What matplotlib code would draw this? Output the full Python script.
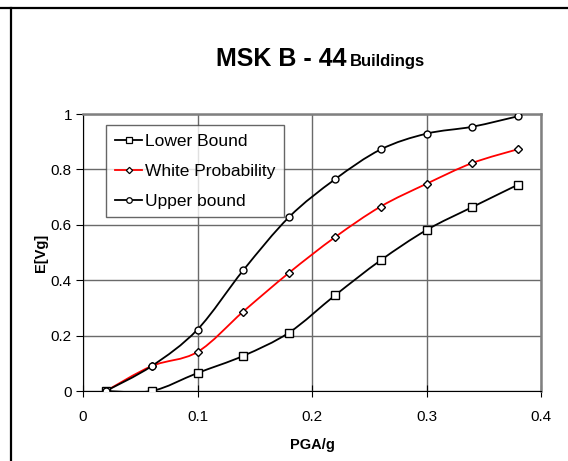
import matplotlib
matplotlib.use("Agg")
import matplotlib.pyplot as plt
import numpy as np
from matplotlib.path import Path
from matplotlib.patches import PathPatch
from matplotlib.lines import Line2D

pga = [0.02, 0.06, 0.10, 0.14, 0.18, 0.22, 0.26, 0.30, 0.34, 0.38]
lower_bound = [0.0, 0.0, 0.065, 0.127, 0.211, 0.345, 0.472, 0.581, 0.664, 0.745]
white_prob = [0.0, 0.09, 0.141, 0.287, 0.427, 0.555, 0.666, 0.748, 0.823, 0.873]
upper_bound = [0.0, 0.09, 0.222, 0.436, 0.628, 0.764, 0.872, 0.929, 0.954, 0.992]

x_ticks = [0, 0.1, 0.2, 0.3, 0.4]
x_labels = ["0", "0.1", "0.2", "0.3", "0.4"]
y_ticks = [0, 0.2, 0.4, 0.6, 0.8, 1.0]
y_labels = ["0", "0.2", "0.4", "0.6", "0.8", "1"]

plt.rcParams["font.family"] = "Liberation Sans"


def smooth_path(x, y):
    # excel style smoothed line: catmull-rom as cubic bezier
    pts = np.column_stack([np.asarray(x, float), np.asarray(y, float)])
    n = len(pts)
    verts = [pts[0]]
    codes = [Path.MOVETO]
    for i in range(n - 1):
        p0 = pts[i - 1] if i > 0 else pts[i]
        p1 = pts[i]
        p2 = pts[i + 1]
        p3 = pts[i + 2] if i + 2 < n else pts[i + 1]
        verts += [p1 + (p2 - p0) / 6.0, p2 - (p3 - p1) / 6.0, p2]
        codes += [Path.CURVE4] * 3
    return Path(verts, codes)


fig = plt.figure(figsize=(5.68, 4.61), dpi=100)

# outer frame lines
fig.add_artist(Line2D([0, 1], [1 - 8.5 / 461] * 2, color="black", lw=1.6,
                      transform=fig.transFigure))
fig.add_artist(Line2D([11 / 568] * 2, [0, 1 - 8.5 / 461], color="black", lw=1.6,
                      transform=fig.transFigure))

ax = fig.add_axes([83 / 568, 70 / 461, 458 / 568, 277 / 461])
ax.set_xlim(0, 0.4)
ax.set_ylim(0, 1)

series = [
    ("Lower Bound", lower_bound, "black", "s", 5.5),
    ("White Probability", white_prob, "red", "D", 4.2),
    ("Upper bound", upper_bound, "black", "o", 5.0),
]

handles = []
for label, vals, col, mk, ms in series:
    ax.add_patch(PathPatch(smooth_path(pga, vals), facecolor="none",
                           edgecolor=col, lw=1.3, zorder=3))
    ax.plot(pga, vals, linestyle="none", marker=mk, ms=ms, mfc="white",
            mec="black", mew=1.0, zorder=4)
    handles.append(Line2D([], [], color=col, lw=1.3, marker=mk, ms=ms - 1,
                          mfc="white", mec="black", mew=0.9))

ax.grid(True, color="#6a6a6a", lw=1.0)
ax.set_axisbelow(True)

for side in ["top", "right"]:
    ax.spines[side].set_color("#808080")
    ax.spines[side].set_linewidth(1.8)

ax.set_xticks(x_ticks)
ax.set_xticklabels(x_labels)
ax.set_yticks(y_ticks)
ax.set_yticklabels(y_labels)
ax.tick_params(axis="x", direction="inout", length=8, pad=10, labelsize=11)
ax.tick_params(axis="y", direction="out", length=5, pad=3, labelsize=11)

ax.set_xlabel("PGA/g", fontsize=10.5, fontweight="bold", labelpad=10)
ax.set_ylabel("E[Vg]", fontsize=10.5, fontweight="bold", labelpad=2)

leg = ax.legend(handles, [s[0] for s in series], loc="upper left",
                bbox_to_anchor=(23 / 458, 1 - 11 / 277), fontsize=12.5,
                frameon=True, fancybox=False, handlelength=1.6,
                handletextpad=0.15, borderpad=0.5, labelspacing=0.85,
                borderaxespad=0)
leg.get_frame().set_edgecolor("#404040")
leg.get_frame().set_linewidth(1.0)

fig.text(347 / 568, 1 - 66 / 461, "MSK B - 44", fontsize=18, fontweight="bold",
         ha="right", va="baseline")
fig.text(350 / 568, 1 - 66 / 461, "Buildings", fontsize=12, fontweight="bold",
         ha="left", va="baseline")

fig.savefig("out.png", dpi=100)
